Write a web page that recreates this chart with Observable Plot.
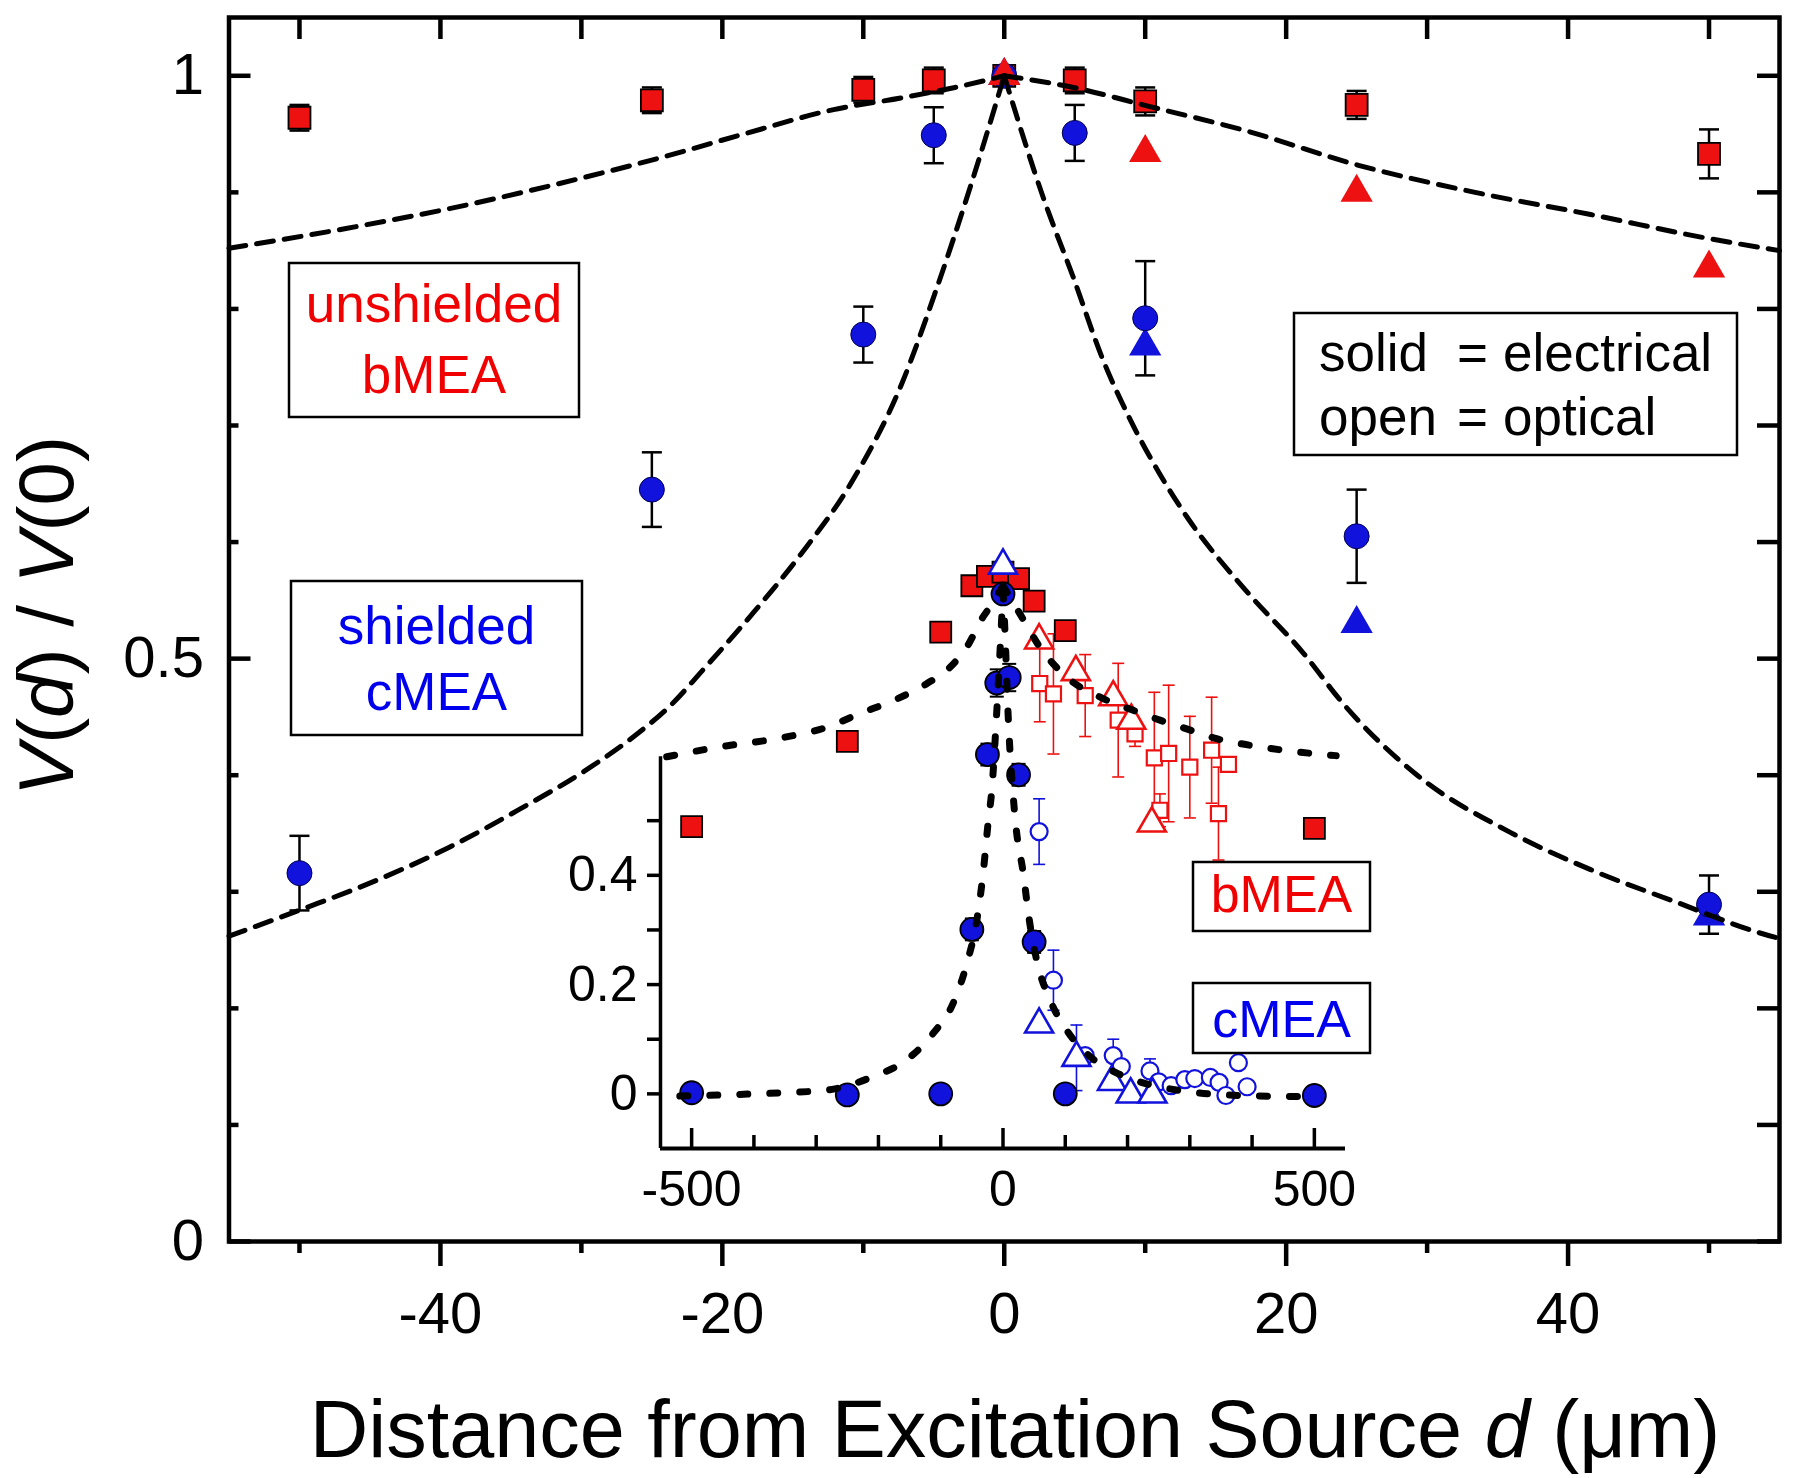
<!DOCTYPE html>
<html><head><meta charset="utf-8">
<script src="https://cdn.jsdelivr.net/npm/d3@7"></script>
<script src="https://cdn.jsdelivr.net/npm/@observablehq/plot@0.6"></script>
<style>
body{margin:0;background:#fff;}
#wrap{position:relative;width:1800px;height:1478px;overflow:hidden;}
#wrap svg{position:absolute;left:0;top:0;}
</style></head><body><div id="wrap"></div>
<script>
// ---------------- data: main chart (distance in µm) ----------------
const mainX       = [-50, -25, -10, -5, 0, 5, 10, 25, 50];
const bmeaElec    = [0.964, 0.979, 0.988, 0.996, 1.0, 0.996, 0.978, 0.975, 0.933];
const bmeaElecErr = [0.011, 0.011, 0.011, 0.011, 0, 0.011, 0.012, 0.012, 0.021];
const cmeaElec    = [0.316, 0.645, 0.778, 0.949, 1.0, 0.951, 0.792, 0.605, 0.289];
const cmeaElecErr = [0.032, 0.032, 0.024, 0.024, 0, 0.024, 0.049, 0.04, 0.025];
const optX        = [0, 10, 25, 50];
const bmeaOpt     = [1.0, 0.934, 0.90, 0.835];
const cmeaOpt     = [1.0, 0.768, 0.53, 0.279];

// fitted curves
const bFitX = [-55, -46.7, -38.6, -30.4, -24.3, -18.2, -12.1, -7.3, -3.5, 0, 4.9, 10.2, 17.1, 25.2, 33.4, 41.6, 49.7, 55];
const bFitY = [0.852, 0.869, 0.888, 0.911, 0.930, 0.951, 0.971, 0.981, 0.990, 1.0, 0.990, 0.974, 0.953, 0.923, 0.900, 0.881, 0.861, 0.850];
const cFitX = [-55, -49.6, -45.1, -39.4, -34.5, -29.6, -26.3, -23.5, -21.4, -17.9, -14.4, -10.85, -7.3, -4.87, -2.4, 0, 2.87, 4.9, 6.95, 8.98, 11.0, 13.05, 17.1, 21.2, 24, 29.3, 35.9, 41.6, 47.7, 53.8, 55];
const cFitY = [0.262, 0.286, 0.307, 0.338, 0.370, 0.405, 0.433, 0.462, 0.490, 0.538, 0.590, 0.651, 0.735, 0.815, 0.905, 1.0, 0.892, 0.827, 0.758, 0.704, 0.659, 0.620, 0.559, 0.505, 0.462, 0.400, 0.351, 0.319, 0.291, 0.264, 0.260];

// ---------------- data: inset (distance in µm) ----------------
const inBx = [-500, -250, -100, -50, -25, 0, 25, 50, 100, 500];
const inBy = [0.489, 0.645, 0.845, 0.930, 0.947, 0.955, 0.943, 0.902, 0.848, 0.486];
const inCx = [-500, -250, -100, -50, -25, -10, 0, 10, 25, 50, 100, 500];
const inCy = [0.002, -0.002, 0.0, 0.301, 0.621, 0.752, 0.915, 0.762, 0.584, 0.278, 0.0, -0.003];
const inCe = [0, 0, 0, 0.02, 0.02, 0.025, 0, 0.025, 0.02, 0.02, 0, 0];

const inBoSqX = [59, 81, 132, 185, 212, 243, 252, 266, 300, 335, 346, 362];
const inBoSqY = [0.751, 0.732, 0.729, 0.684, 0.659, 0.615, 0.519, 0.623, 0.598, 0.629, 0.513, 0.603];
const inBoSqE = [0.07, 0.11, 0.075, 0.104, 0.023, 0.12, 0.03, 0.125, 0.093, 0.097, 0.085, 0];
const inBoTrX = [58, 117, 177, 206, 239];
const inBoTrY = [0.830, 0.772, 0.726, 0.683, 0.495];

const inCoCiX = [58, 81, 132, 177, 190, 236, 250, 270, 292, 308, 333, 347, 358, 378, 392];
const inCoCiY = [0.48, 0.208, 0.07, 0.07, 0.05, 0.042, 0.022, 0.015, 0.026, 0.028, 0.03, 0.021, -0.003, 0.057, 0.013];
const inCoCiE = [0.06, 0.055, 0, 0.03, 0, 0.022, 0, 0, 0, 0, 0, 0, 0, 0, 0];
const inCoTrX = [0, 58, 118, 175, 205, 240];
const inCoTrY = [0.967, 0.127, 0.066, 0.022, -0.001, -0.001];
const inCoTrE = [0, 0, 0.06, 0, 0, 0];

const ibFitX = [-540, -455, -364, -283, -230, -176, -122, -85, -58, -32, -21, 0, 27, 59, 102, 156, 209, 252, 295, 343, 397, 450, 535];
const ibFitY = [0.617, 0.635, 0.650, 0.671, 0.696, 0.720, 0.751, 0.781, 0.818, 0.873, 0.891, 0.930, 0.879, 0.818, 0.763, 0.726, 0.702, 0.684, 0.668, 0.650, 0.638, 0.629, 0.619];
const icFitX = [-519, -400, -283, -208, -155, -112, -80, -58, -42, -32, -24, -18, -10, -3, 0, 3, 8, 19, 33, 42, 54, 75.5, 102, 140, 183, 225, 279, 359, 480];
const icFitY = [-0.004, 0.0, 0.007, 0.032, 0.062, 0.111, 0.166, 0.239, 0.318, 0.403, 0.495, 0.556, 0.70, 0.85, 0.92, 0.85, 0.70, 0.51, 0.40, 0.32, 0.245, 0.172, 0.117, 0.068, 0.038, 0.020, 0.007, -0.002, -0.005];

// tick values
const mainXLabels = [-40, -20, 0, 20, 40];
const mainXMinor  = [-50, -30, -10, 10, 30, 50];
const mainXTop    = [-50, -40, -30, -20, -10, 0, 10, 20, 30, 40, 50];
const mainYLabels = [0, 0.5, 1];
const mainYMinor  = [0.1, 0.2, 0.3, 0.4, 0.6, 0.7, 0.8, 0.9];
const mainYRight  = [0, 0.1, 0.2, 0.3, 0.4, 0.5, 0.6, 0.7, 0.8, 0.9, 1];
const inXLabels = [-500, 0, 500];
const inXMinor  = [-400, -300, -200, -100, 100, 200, 300, 400];
const inYLabels = [0, 0.2, 0.4];
const inYTicks  = [0, 0.1, 0.2, 0.3, 0.4, 0.5];
const inYAxisExtent = [-0.1, 0.617];
const inXDomain = [-550, 550];

// ---------------- helpers ----------------
const FONT = "'Liberation Sans', Arial, Helvetica, sans-serif";
const RED = "#ee1111", BLUE = "#1212dd", TRED = "#f00000", TBLUE = "#0000ee";
const rows = (xs, ys, es) => xs.map((x, i) => ({x, y: ys[i], e: es ? es[i] : 0}));
const branches = (xs, ys) => {
  const p = xs.map((x, i) => ({x, y: ys[i]}));
  return [...p.filter(d => d.x <= 0).map(d => ({...d, side: "L"})),
          ...p.filter(d => d.x >= 0).map(d => ({...d, side: "R"}))];
};
const cap = hw => ({draw(ctx) { ctx.moveTo(-hw, 0); ctx.lineTo(hw, 0); }});
function errorBars(data, {stroke = "black", strokeWidth = 2.5, hw = 10} = {}) {
  const d = data.filter(r => r.e > 0);
  return [
    Plot.ruleX(d, {x: "x", y1: r => r.y - r.e, y2: r => r.y + r.e, stroke, strokeWidth}),
    Plot.dot(d, {x: "x", y: r => r.y - r.e, symbol: cap(hw), r: 1, stroke, strokeWidth, fill: "none"}),
    Plot.dot(d, {x: "x", y: r => r.y + r.e, symbol: cap(hw), r: 1, stroke, strokeWidth, fill: "none"})
  ];
}

const mB = rows(mainX, bmeaElec, bmeaElecErr);
const mC = rows(mainX, cmeaElec, cmeaElecErr);
const mBo = rows(optX, bmeaOpt);
const mCo = rows(optX, cmeaOpt);

// ---------------- main plot ----------------
const main = Plot.plot({
  width: 1800, height: 1478,
  marginLeft: 228.5, marginRight: 21, marginTop: 17, marginBottom: 237,
  x: {domain: [-55, 55]},
  y: {domain: [0, 1.05]},
  style: {fontFamily: FONT, background: "white", overflow: "visible"},
  marks: [
    errorBars(mB, {hw: 10}),
    errorBars(mC, {hw: 10}),
    Plot.dot(mB, {x: "x", y: "y", symbol: "square", r: 12.4, fill: RED, stroke: "black", strokeWidth: 1.8}),
    Plot.dot(mCo, {x: "x", y: "y", symbol: "triangle", r: 12, fill: BLUE, stroke: "none"}),
    Plot.dot(mC, {x: "x", y: "y", r: 12.5, fill: BLUE, stroke: "#000050", strokeWidth: 1}),
    Plot.dot(mBo, {x: "x", y: "y", symbol: "triangle", r: 12, fill: RED, stroke: "none"}),
    Plot.line(branches(bFitX, bFitY), {x: "x", y: "y", z: "side", curve: "monotone-x", stroke: "black", strokeWidth: 5, strokeDasharray: "17,11"}),
    Plot.line(branches(cFitX, cFitY), {x: "x", y: "y", z: "side", curve: "monotone-x", stroke: "black", strokeWidth: 5, strokeDasharray: "17,11"}),
    Plot.frame({strokeWidth: 4.5}),
    Plot.axisY({anchor: "left", ticks: mainYLabels, tickSize: -22, fill: "none", strokeWidth: 4.5}),
    Plot.axisY({anchor: "left", ticks: mainYMinor, tickSize: -10, fill: "none", strokeWidth: 4.5}),
    Plot.axisY({anchor: "left", ticks: mainYLabels, tickSize: 0, tickPadding: 25, fontSize: 58, tickFormat: d => String(d), label: null}),
    Plot.axisY({anchor: "right", ticks: mainYRight, tickSize: -23, fill: "none", strokeWidth: 4.5}),
    Plot.axisX({anchor: "bottom", ticks: mainXLabels, tickSize: 25, fill: "none", strokeWidth: 4.5}),
    Plot.axisX({anchor: "bottom", ticks: mainXMinor, tickSize: 12, fill: "none", strokeWidth: 4.5}),
    Plot.axisX({anchor: "bottom", ticks: mainXLabels, tickSize: 0, tickPadding: 50, fontSize: 58, tickFormat: d => String(d), label: null}),
    Plot.axisX({anchor: "top", ticks: mainXTop, tickSize: -21, fill: "none", strokeWidth: 4.5})
  ]
});

// axis titles (rich text with italics)
const ms = d3.select(main);
const yl = ms.append("text")
  .attr("transform", "translate(73,616) rotate(-90)")
  .attr("text-anchor", "middle").attr("font-size", 78).attr("font-family", FONT).attr("fill", "black");
[["V", true], ["(", false], ["d", true], [") / ", false], ["V", true], ["(0)", false]]
  .forEach(([t, it]) => yl.append("tspan").attr("font-style", it ? "italic" : "normal").text(t));
const xl = ms.append("text")
  .attr("x", 1015).attr("y", 1457)
  .attr("text-anchor", "middle").attr("font-size", 81).attr("font-family", FONT).attr("fill", "black");
[["Distance from Excitation Source ", false], ["d", true], [" (\u03bcm)", false]]
  .forEach(([t, it]) => xl.append("tspan").attr("font-style", it ? "italic" : "normal").text(t));

// ---------------- inset plot ----------------
const iB = rows(inBx, inBy);
const iC = rows(inCx, inCy, inCe);
const iBoS = rows(inBoSqX, inBoSqY, inBoSqE);
const iBoT = rows(inBoTrX, inBoTrY);
const iCoC = rows(inCoCiX, inCoCiY, inCoCiE);
const iCoT = rows(inCoTrX, inCoTrY, inCoTrE);

const inset = Plot.plot({
  width: 830, height: 740,
  marginLeft: 100, marginRight: 45, marginTop: 47, marginBottom: 92,
  x: {domain: inXDomain},
  y: {domain: [-0.1, 1.0]},
  style: {fontFamily: FONT, background: "transparent", overflow: "visible"},
  marks: [
    errorBars(iBoS, {stroke: RED, strokeWidth: 1.6, hw: 6}),
    errorBars(iCoC, {stroke: BLUE, strokeWidth: 1.6, hw: 6}),
    errorBars(iCoT, {stroke: BLUE, strokeWidth: 1.6, hw: 6}),
    errorBars(iC, {stroke: "black", strokeWidth: 2, hw: 7}),
    Plot.dot(iBoS, {x: "x", y: "y", symbol: "square", r: 8.5, fill: "white", stroke: RED, strokeWidth: 2.2}),
    Plot.dot(iBoT, {x: "x", y: "y", symbol: "triangle", r: 10.4, fill: "white", stroke: RED, strokeWidth: 2.6}),
    Plot.dot(iCoC, {x: "x", y: "y", r: 8.5, fill: "white", stroke: BLUE, strokeWidth: 2.2}),
    Plot.dot(iB, {x: "x", y: "y", symbol: "square", r: 11.85, fill: RED, stroke: "black", strokeWidth: 1.8}),
    Plot.dot(iC, {x: "x", y: "y", r: 11.5, fill: BLUE, stroke: "black", strokeWidth: 1.8}),
    Plot.dot(iCoT, {x: "x", y: "y", symbol: "triangle", r: 10.4, fill: "white", stroke: BLUE, strokeWidth: 2.6}),
    Plot.line(branches(ibFitX, ibFitY), {x: "x", y: "y", z: "side", curve: "monotone-x", stroke: "black", strokeWidth: 7, strokeDasharray: "8,22", strokeLinecap: "round"}),
    Plot.line(branches(icFitX, icFitY), {x: "x", y: "y", z: "side", curve: "monotone-x", stroke: "black", strokeWidth: 7, strokeDasharray: "8,22", strokeLinecap: "round"}),
    Plot.ruleX([inXDomain[0]], {y1: inYAxisExtent[0], y2: inYAxisExtent[1], strokeWidth: 3.5}),
    Plot.ruleY([inYAxisExtent[0]], {x1: inXDomain[0], x2: inXDomain[1], strokeWidth: 4}),
    Plot.axisY({anchor: "left", ticks: inYTicks, tickSize: 13, fill: "none", strokeWidth: 3.5}),
    Plot.axisY({anchor: "left", ticks: inYLabels, tickSize: 0, tickPadding: 23, fontSize: 50, tickFormat: d => String(d), label: null}),
    Plot.axisX({anchor: "bottom", ticks: inXLabels, tickSize: -20, fill: "none", strokeWidth: 3.5}),
    Plot.axisX({anchor: "bottom", ticks: inXMinor, tickSize: -13, fill: "none", strokeWidth: 3.5}),
    Plot.axisX({anchor: "bottom", ticks: inXLabels, tickSize: 0, tickPadding: 22, fontSize: 50, tickFormat: d => String(d), label: null})
  ]
});
inset.style.left = "560px";
inset.style.top = "500px";
inset.style.background = "transparent";

// ---------------- annotation boxes ----------------
const labelBoxes = [
  {x0: 289, y0: 263, x1: 579, y1: 417, color: TRED, fs: 53, lines: [["unshielded", 322], ["bMEA", 393]]},
  {x0: 291, y0: 581, x1: 582, y1: 735, color: TBLUE, fs: 53, lines: [["shielded", 644], ["cMEA", 710]]},
  {x0: 1193, y0: 862, x1: 1370, y1: 931, color: TRED, fs: 52, lines: [["bMEA", 912]]},
  {x0: 1193, y0: 983, x1: 1370, y1: 1053, color: TBLUE, fs: 52, lines: [["cMEA", 1037]]}
];
const keyBox = {x0: 1294, y0: 313, x1: 1737, y1: 455, fs: 53, cols: [1319, 1457, 1503],
  rows: [[["solid", "=", "electrical"], 371], [["open", "=", "optical"], 435]]};

const anno = d3.create("svg").attr("width", 1800).attr("height", 1478)
  .style("position", "absolute").style("left", "0px").style("top", "0px")
  .attr("font-family", FONT);
for (const b of labelBoxes) {
  anno.append("rect").attr("x", b.x0).attr("y", b.y0).attr("width", b.x1 - b.x0).attr("height", b.y1 - b.y0)
    .attr("fill", "white").attr("stroke", "black").attr("stroke-width", 2.5);
  for (const [t, y] of b.lines) {
    anno.append("text").attr("x", (b.x0 + b.x1) / 2).attr("y", y).attr("text-anchor", "middle")
      .attr("font-size", b.fs).attr("fill", b.color).text(t);
  }
}
anno.append("rect").attr("x", keyBox.x0).attr("y", keyBox.y0).attr("width", keyBox.x1 - keyBox.x0).attr("height", keyBox.y1 - keyBox.y0)
  .attr("fill", "white").attr("stroke", "black").attr("stroke-width", 2.5);
for (const [words, y] of keyBox.rows) {
  words.forEach((w, i) => anno.append("text").attr("x", keyBox.cols[i]).attr("y", y)
    .attr("font-size", keyBox.fs).attr("fill", "black").text(w));
}

const wrap = document.getElementById("wrap");
wrap.append(main);
wrap.append(inset);
wrap.append(anno.node());
</script></body></html>
